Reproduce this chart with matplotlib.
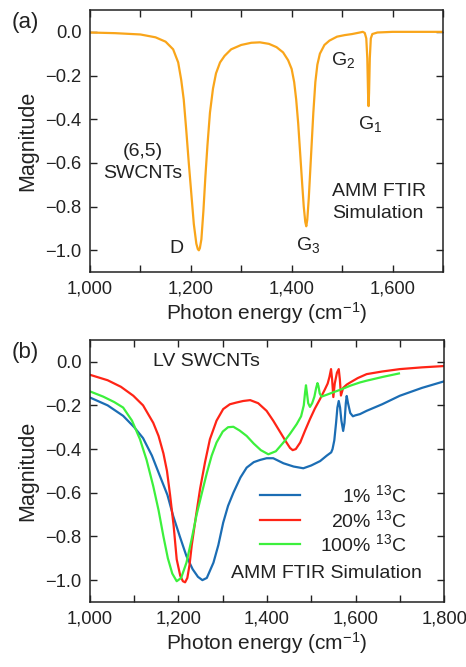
import numpy as np
import matplotlib
matplotlib.use('Agg')
import matplotlib.pyplot as plt
from matplotlib.ticker import MultipleLocator, FuncFormatter

plt.rcParams['font.family'] = ['Liberation Sans', 'DejaVu Sans']
plt.rcParams['mathtext.fontset'] = 'custom'
plt.rcParams['mathtext.rm'] = 'Liberation Sans'
plt.rcParams['mathtext.it'] = 'Liberation Sans'
plt.rcParams['axes.unicode_minus'] = True

# colours
orange = '#F9A51A'
blue = '#1B6DB4'
red = '#FF2416'
green = '#3CF03C'
ink = '#222222'

# (a) (6,5) SWCNTs, AMM FTIR simulation
a_x = [1000, 1050, 1100, 1130, 1150, 1165, 1175, 1181, 1186, 1191, 1196, 1201,
       1206, 1211, 1214, 1216, 1218, 1221, 1225, 1229, 1233, 1238, 1244, 1250,
       1258, 1267, 1280, 1300, 1320, 1337, 1355, 1370, 1383, 1393, 1400, 1405,
       1409, 1413, 1417, 1421, 1424, 1427, 1429, 1431, 1434, 1437, 1440, 1443,
       1447, 1451, 1456, 1465, 1475, 1490, 1505, 1520, 1535, 1541, 1545, 1548,
       1550, 1551.5, 1552.5, 1553.5, 1555, 1557, 1560, 1570, 1600, 1700]
a_y = [-0.003, -0.006, -0.012, -0.025, -0.045, -0.08, -0.14, -0.22, -0.31, -0.45,
       -0.60, -0.74, -0.88, -0.97, -0.995, -1.0, -0.99, -0.95, -0.82, -0.66,
       -0.52, -0.37, -0.26, -0.19, -0.14, -0.11, -0.08, -0.06, -0.05, -0.048,
       -0.055, -0.07, -0.094, -0.13, -0.17, -0.23, -0.31, -0.42, -0.56, -0.70,
       -0.80, -0.87, -0.89, -0.86, -0.76, -0.63, -0.50, -0.37, -0.23, -0.15,
       -0.10, -0.06, -0.04, -0.022, -0.015, -0.01, -0.003, 0.0, -0.005, -0.03,
       -0.12, -0.28, -0.34, -0.28, -0.12, -0.03, -0.01, -0.003, 0.0, 0.0]

# (b) LV SWCNTs with 13C content
b1_x = [1000, 1040, 1075, 1100, 1120, 1140, 1158, 1175, 1188, 1203, 1218, 1232,
        1244, 1254, 1264, 1279, 1290, 1301, 1312, 1324, 1340, 1354, 1370, 1384,
        1399, 1414, 1437, 1460, 1482, 1500, 1520, 1535, 1545, 1548, 1552, 1556,
        1559, 1562, 1565, 1568, 1572, 1575, 1578, 1580, 1583, 1588, 1594, 1599,
        1610, 1625, 1660, 1700, 1750, 1800]
b1_y = [-0.164, -0.20, -0.248, -0.30, -0.35, -0.43, -0.523, -0.61, -0.706, -0.80,
        -0.89, -0.95, -0.985, -1.0, -0.99, -0.92, -0.84, -0.737, -0.66, -0.60,
        -0.53, -0.485, -0.46, -0.45, -0.442, -0.442, -0.465, -0.48, -0.488, -0.475,
        -0.455, -0.43, -0.415, -0.40, -0.36, -0.28, -0.21, -0.18, -0.21, -0.27,
        -0.317, -0.28, -0.19, -0.157, -0.19, -0.235, -0.25, -0.246, -0.24, -0.225,
        -0.195, -0.156, -0.12, -0.09]
b20_x = [1000, 1040, 1070, 1098, 1120, 1143, 1155, 1166, 1174, 1181, 1189, 1196,
         1204, 1210, 1215, 1220, 1225, 1230, 1240, 1249, 1260, 1271, 1286, 1301,
         1316, 1331, 1346, 1362, 1380, 1399, 1414, 1429, 1444, 1452, 1458, 1465,
         1475, 1486, 1497, 1508, 1520, 1530, 1537, 1541, 1544.6, 1547, 1549.8,
         1553, 1558, 1562, 1564.5, 1567, 1572, 1580, 1588, 1605, 1625, 1660, 1700,
         1750, 1800]
b20_y = [-0.06, -0.085, -0.115, -0.156, -0.20, -0.28, -0.34, -0.42, -0.50, -0.61,
         -0.75, -0.905, -0.98, -1.005, -1.01, -0.99, -0.93, -0.84, -0.70, -0.58,
         -0.46, -0.355, -0.27, -0.217, -0.195, -0.187, -0.18, -0.176, -0.19, -0.225,
         -0.27, -0.32, -0.37, -0.395, -0.405, -0.40, -0.37, -0.315, -0.263, -0.215,
         -0.17, -0.13, -0.10, -0.07, -0.034, -0.08, -0.162, -0.10, -0.05, -0.034,
         -0.08, -0.155, -0.12, -0.105, -0.095, -0.075, -0.057, -0.045, -0.034,
         -0.026, -0.02]
b100_x = [1000, 1030, 1055, 1075, 1095, 1113, 1128, 1143, 1155, 1166, 1176, 1186,
          1196, 1206, 1218, 1230, 1241, 1253, 1264, 1275, 1286, 1300, 1312, 1324,
          1338, 1354, 1370, 1386, 1403, 1420, 1437, 1452, 1467, 1477, 1483, 1486,
          1488, 1490, 1493, 1497, 1502, 1507, 1511, 1514, 1516, 1519, 1523, 1530,
          1550, 1570, 1588, 1610, 1625, 1663, 1698]
b100_y = [-0.136, -0.16, -0.185, -0.21, -0.27, -0.355, -0.45, -0.57, -0.68, -0.80,
          -0.90, -0.97, -1.005, -0.99, -0.92, -0.81, -0.70, -0.60, -0.51, -0.43,
          -0.37, -0.32, -0.30, -0.298, -0.315, -0.34, -0.375, -0.405, -0.424, -0.41,
          -0.37, -0.33, -0.286, -0.25, -0.20, -0.14, -0.108, -0.14, -0.19, -0.207,
          -0.19, -0.16, -0.12, -0.098, -0.11, -0.145, -0.16, -0.155, -0.14, -0.125,
          -0.11, -0.095, -0.087, -0.069, -0.054]

b_series = [(b1_x, b1_y, blue, '1% $^{13}$C'),
            (b20_x, b20_y, red, '20% $^{13}$C'),
            (b100_x, b100_y, green, '100% $^{13}$C')]

fs = 14


def comma_fmt(v, pos):
    return '{:,.0f}'.format(v)


def style_axes(ax, xmax):
    ax.set_xlim(1000, xmax)
    ax.set_ylim(-1.1, 0.1)
    ax.xaxis.set_major_locator(MultipleLocator(200))
    ax.xaxis.set_minor_locator(MultipleLocator(100))
    ax.yaxis.set_major_locator(MultipleLocator(0.2))
    ax.xaxis.set_major_formatter(FuncFormatter(comma_fmt))
    ax.tick_params(which='both', direction='in', top=True, right=True,
                   length=5, width=1, color=ink, labelsize=13.2, pad=6,
                   labelcolor=ink)
    for s in ax.spines.values():
        s.set_linewidth(1.1)
        s.set_color(ink)
    ax.set_xlabel('Photon energy (cm$^{-1}$)', fontsize=15, color=ink, labelpad=2)
    ax.set_ylabel('Magnitude', fontsize=15.5, color=ink, labelpad=5)


fig = plt.figure(figsize=(4.66, 6.67), dpi=100)

# panel (a)
ax1 = fig.add_axes([0.193, 0.592, 0.7575, 0.393])
ax1.plot(a_x, a_y, color=orange, lw=1.6)
style_axes(ax1, 1700)
ax1.set_yticks([0.0, -0.2, -0.4, -0.6, -0.8, -1.0])
ax1.text(1105, -0.55, '(6,5)', fontsize=fs, ha='center', va='center', color=ink)
ax1.text(1105, -0.648, 'SWCNTs', fontsize=fs, ha='center', va='center', color=ink)
ax1.text(1172, -0.99, 'D', fontsize=fs, ha='center', va='center', color=ink)
ax1.text(1432, -0.975, 'G$_{3}$', fontsize=fs, ha='center', va='center', color=ink)
ax1.text(1502, -0.13, 'G$_{2}$', fontsize=fs, ha='center', va='center', color=ink)
ax1.text(1555, -0.42, 'G$_{1}$', fontsize=fs, ha='center', va='center', color=ink)
ax1.text(1481, -0.73, 'AMM FTIR', fontsize=fs, ha='left', va='center', color=ink)
ax1.text(1481, -0.833, 'Simulation', fontsize=fs, ha='left', va='center', color=ink)
fig.text(0.054, 0.967, '(a)', fontsize=16, ha='center', va='center', color=ink)

# panel (b)
ax2 = fig.add_axes([0.193, 0.0975, 0.76, 0.393])
for xs, ys, c, lab in b_series:
    ax2.plot(xs, ys, color=c, lw=1.6)
style_axes(ax2, 1800)
ax2.set_yticks([0.0, -0.2, -0.4, -0.6, -0.8, -1.0])
ax2.text(1264, 0.0, 'LV SWCNTs', fontsize=fs, ha='center', va='center', color=ink)
ax2.text(1535, -0.97, 'AMM FTIR Simulation', fontsize=fs, ha='center', va='center',
         color=ink)
fig.text(0.054, 0.471, '(b)', fontsize=16, ha='center', va='center', color=ink)

# legend drawn by hand so the labels are right-aligned
rows = [0.408, 0.313, 0.221]
for (xs, ys, c, lab), ry in zip(b_series, rows):
    ax2.plot([0.48, 0.593], [ry, ry], color=c, lw=1.6, transform=ax2.transAxes)
    ax2.text(0.895, ry, lab, fontsize=fs, ha='right', va='center', color=ink,
             transform=ax2.transAxes)

fig.savefig('out.png', dpi=100)
